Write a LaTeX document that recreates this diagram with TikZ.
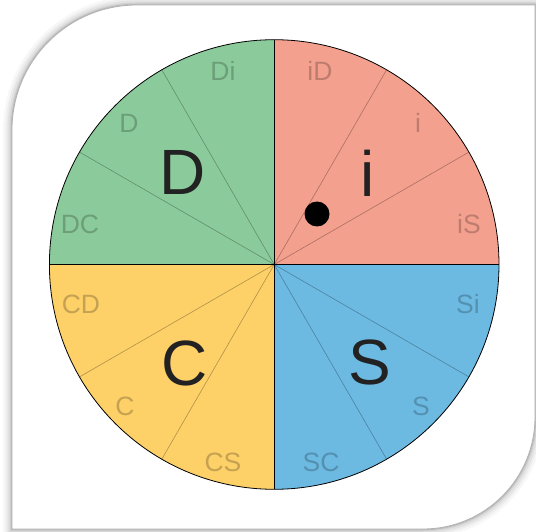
\documentclass[tikz,border=0pt]{standalone}
\usepackage{fontspec}
\setmainfont{Liberation Sans}
\definecolor{discG}{RGB}{139,203,155}
\definecolor{discR}{RGB}{244,160,142}
\definecolor{discY}{RGB}{253,208,104}
\definecolor{discB}{RGB}{108,186,226}
\definecolor{bigtxt}{RGB}{34,34,34}
\tikzset{
  small/.style={font=\fontsize{26.5}{26.5}\selectfont, text=black, text opacity=0.22, inner sep=0pt},
  big/.style={font=\fontsize{64}{64}\selectfont, text=bigtxt, inner sep=0pt},
  spoke/.style={draw=black, draw opacity=0.3, line width=0.6pt},
}
\begin{document}
\begin{tikzpicture}[x=1pt,y=-1pt]
\useasboundingbox (0,0) rectangle (536,532);
\clip (0,0) rectangle (536,532);
\def\cardpath{(12,300) [rounded corners=125pt] |- (300,5) [sharp corners] -- (535,5) -- (535,300) [rounded corners=112pt] |- (300,529) [sharp corners] -- (12,529) -- cycle}
\foreach \w/\o in {18/0.03, 13/0.04, 9/0.05, 5/0.07, 2.5/0.1}
  \draw[line width=\w pt, black, opacity=\o] \cardpath;
\fill[white] \cardpath;
\draw[black!30, line width=0.8pt] \cardpath;
\begin{scope}[shift={(274.2,264.5)}, yscale=-1]
  \def\R{224.8}
  \fill[discR] (0,0) -- (0:\R) arc (0:90:\R) -- cycle;
  \fill[discG] (0,0) -- (90:\R) arc (90:180:\R) -- cycle;
  \fill[discY] (0,0) -- (180:\R) arc (180:270:\R) -- cycle;
  \fill[discB] (0,0) -- (270:\R) arc (270:360:\R) -- cycle;
  \foreach \a in {30,60,120,150,210,240,300,330}
    \draw[spoke] (0,0) -- (\a:\R);
  \draw[black, line width=0.7pt] (-\R,0) -- (\R,0);
  \draw[black, line width=0.7pt] (0,-\R) -- (0,\R);
  \draw[black, line width=0.8pt] (0,0) circle (\R);
\end{scope}
\node[big] (bD) at (183,172) {D};
\node[big] (bi) at (368,173) {i};
\node[big] (bC) at (185,363) {C};
\node[big] (bS) at (370,362) {S};
\node[small] (lDi) at (223,71) {Di};
\node[small] (lD) at (129,123) {D};
\node[small] (lDC) at (80,224) {DC};
\node[small] (liD) at (320,71) {iD};
\node[small] (li) at (418,123) {i};
\node[small] (liS) at (469,224) {iS};
\node[small] (lCD) at (81,304) {CD};
\node[small] (lC) at (125,406) {C};
\node[small] (lCS) at (223,462) {CS};
\node[small] (lSi) at (468,304) {Si};
\node[small] (lS) at (421,406) {S};
\node[small] (lSC) at (321,462) {SC};
\fill[black] (317,214) circle (12.5);
\end{tikzpicture}
\end{document}
